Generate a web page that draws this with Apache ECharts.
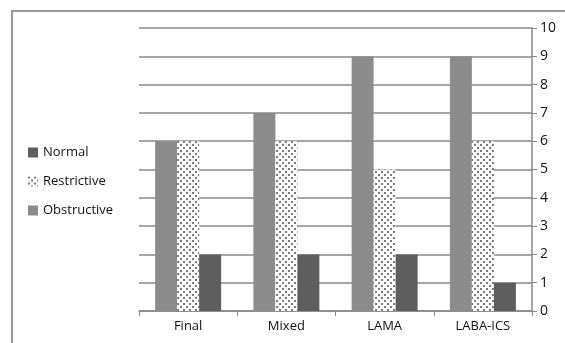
<!DOCTYPE html>
<html>
<head>
<meta charset="utf-8">
<script src="https://cdn.jsdelivr.net/npm/echarts@6/dist/echarts.min.js"></script>
<style>html,body{margin:0;padding:0;background:#fff;}#c{width:565px;height:343px;}</style>
</head>
<body>
<div id="c"></div>
<script>
var categories = ['Final', 'Mixed', 'LAMA', 'LABA-ICS'];
var obstructive = [6, 7, 9, 9];
var restrictive = [6, 6, 5, 6];
var normal = [2, 2, 2, 1];
var yTicks = [0, 10, 1];

var pc = document.createElement('canvas');
pc.width = 6; pc.height = 6;
var ctx = pc.getContext('2d');
ctx.fillStyle = '#ffffff'; ctx.fillRect(0, 0, 6, 6);
ctx.fillStyle = '#7a7a7a';
ctx.fillRect(0, 0, 2, 2);
ctx.fillRect(3, 3, 2, 2);

var chart = echarts.init(document.getElementById('c'), null, {renderer: 'canvas'});
var font = 'Open Sans, Liberation Sans, sans-serif';
chart.setOption({
  animation: false,
  backgroundColor: '#fff',
  graphic: [{
    type: 'rect', shape: {x: 12, y: 11, width: 600, height: 400},
    style: {fill: 'none', stroke: '#999', lineWidth: 2}, silent: true
  }],
  legend: {
    orient: 'vertical', left: 23, top: 141, itemGap: 16,
    itemWidth: 10, itemHeight: 10, icon: 'rect',
    textStyle: {fontFamily: font, fontSize: 13, color: '#111'},
    data: ['Normal', 'Restrictive', 'Obstructive']
  },
  grid: {left: 139, right: 33, top: 28, bottom: 32},
  xAxis: {
    type: 'category', data: categories,
    axisLine: {lineStyle: {color: '#888', width: 1.5}},
    axisTick: {show: true, length: 5, lineStyle: {color: '#888'}},
    axisLabel: {fontFamily: font, fontSize: 13, color: '#111', margin: 9}
  },
  yAxis: {
    type: 'value', position: 'right', min: yTicks[0], max: yTicks[1], interval: yTicks[2],
    axisLine: {show: true, lineStyle: {color: '#888', width: 1.5}},
    axisTick: {show: true, length: 5, lineStyle: {color: '#888'}},
    axisLabel: {fontFamily: font, fontSize: 14, color: '#111', margin: 8},
    splitLine: {lineStyle: {color: '#888', width: 1.5}}
  },
  series: [
    {name: 'Obstructive', type: 'bar', data: obstructive, barWidth: 22, barGap: '0%', itemStyle: {color: '#8c8c8c'}},
    {name: 'Restrictive', type: 'bar', data: restrictive, barWidth: 22, barGap: '0%', itemStyle: {color: {image: pc, repeat: 'repeat'}}},
    {name: 'Normal', type: 'bar', data: normal, barWidth: 22, barGap: '0%', itemStyle: {color: '#5e5e5e'}}
  ]
});
</script>
</body>
</html>
